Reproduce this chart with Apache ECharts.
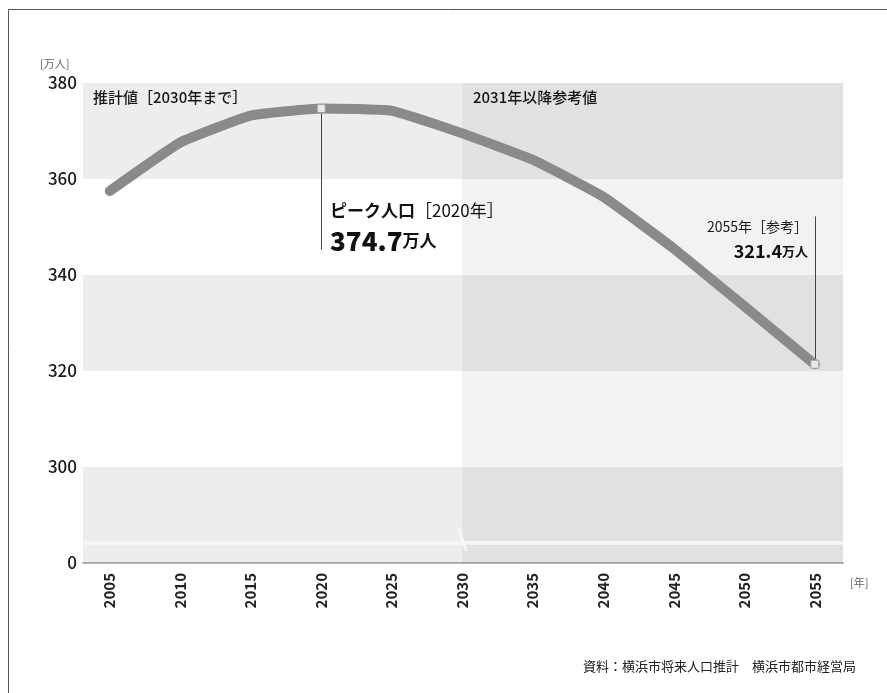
<!DOCTYPE html>
<html>
<head>
<meta charset="utf-8">
<script src="https://cdn.jsdelivr.net/npm/echarts@6/dist/echarts.min.js"></script>
<style>
  html, body { margin: 0; padding: 0; background: #fff; }
  #chart { width: 887px; height: 693px; }
</style>
</head>
<body>
<div id="chart"></div>
<script>
// 横浜市の将来人口（万人）
var years = [2005, 2010, 2015, 2020, 2025, 2030, 2035, 2040, 2045, 2050, 2055]
var population = [357.5, 367.6, 373.2, 374.7, 374.2, 369.5, 364.0, 356.3, 345.5, 333.5, 321.4]
var yTickLabels = ['0', '300', '320', '340', '360', '380']
var highlights = [[2020, 374.7], [2055, 321.4]]

var font = '"Noto Sans CJK JP", "Noto Sans", sans-serif'
var chart = echarts.init(document.getElementById('chart'))

var option = {
  animation: false,
  grid: { left: 83, right: 44, top: 83, bottom: 130 },
  xAxis: {
    type: 'value',
    min: 2003.1,
    max: 2057,
    axisLine: { show: true, lineStyle: { color: '#b4b4b4', width: 2 } },
    axisTick: { show: false },
    splitLine: { show: false },
    axisLabel: {
      customValues: years,
      rotate: 90,
      margin: 10,
      fontFamily: font,
      fontSize: 15,
      fontWeight: 'bold',
      color: '#222',
      formatter: function (v) { return String(v) }
    }
  },
  yAxis: {
    type: 'value',
    min: 280,
    max: 380,
    interval: 20,
    axisLine: { show: false },
    axisTick: { show: false },
    splitLine: { show: false },
    axisLabel: {
      margin: 6,
      fontFamily: font,
      fontSize: 17,
      fontWeight: 500,
      color: '#1a1a1a',
      formatter: function (v) {
        return yTickLabels[(v - 280) / 20]
      }
    }
  },
  series: [
    {
      // 背景の帯
      type: 'line',
      data: [],
      z: 1,
      silent: true,
      markArea: {
        silent: true,
        itemStyle: { color: 'rgba(0,0,0,0.07)' },
        data: [
          [{ yAxis: 360 }, { yAxis: 380 }],
          [{ yAxis: 320 }, { yAxis: 340 }],
          [{ yAxis: 280 }, { yAxis: 300 }]
        ]
      }
    },
    {
      // 2031年以降の網掛け
      type: 'line',
      data: [],
      z: 1,
      silent: true,
      markArea: {
        silent: true,
        itemStyle: { color: 'rgba(0,0,0,0.05)' },
        data: [[{ xAxis: 2030, yAxis: 280 }, { xAxis: 2057, yAxis: 380 }]]
      }
    },
    {
      // 軸の省略
      type: 'line',
      data: [],
      z: 2,
      silent: true,
      markArea: {
        silent: true,
        itemStyle: { color: '#f6f6f6' },
        data: [[{ yAxis: 283.8 }, { yAxis: 284.6 }]]
      },
      markLine: {
        silent: true,
        symbol: 'none',
        lineStyle: { color: '#f6f6f6', width: 3, type: 'solid' },
        label: { show: false },
        data: [[{ coord: [2029.7, 287.5] }, { coord: [2030.3, 282.5] }]]
      }
    },
    {
      name: '人口',
      type: 'line',
      data: years.map(function (y, i) { return [y, population[i]] }),
      z: 5,
      smooth: 0.12,
      symbol: 'none',
      lineStyle: { color: '#8a8a8a', width: 10, cap: 'round' }
    },
    {
      type: 'scatter',
      data: highlights,
      z: 6,
      symbol: 'rect',
      symbolSize: 8,
      itemStyle: { color: '#fff', borderColor: '#999', borderWidth: 1 },
      markLine: {
        silent: true,
        symbol: 'none',
        label: { show: false },
        lineStyle: { color: '#444', width: 1, type: 'solid' },
        data: [
          [{ coord: [2020, 374.2] }, { coord: [2020, 345.3] }],
          [{ coord: [2055, 321.9] }, { coord: [2055, 352.2] }]
        ]
      }
    }
  ],
  graphic: [
    {
      type: 'rect',
      shape: { x: 8.5, y: 9.5, width: 900, height: 700 },
      style: { fill: 'none', stroke: '#555', lineWidth: 1 },
      z: 100
    },
    {
      type: 'text', x: 40, y: 58,
      style: { text: '[万人]', font: '11px ' + font, fill: '#666' }
    },
    {
      type: 'text', x: 850, y: 577,
      style: { text: '[年]', font: '11px ' + font, fill: '#666' }
    },
    {
      type: 'text', x: 93, y: 90,
      style: { text: '推計値［2030年まで］', font: '500 15px ' + font, fill: '#1a1a1a' }
    },
    {
      type: 'text', x: 473, y: 90,
      style: { text: '2031年以降参考値', font: '500 15px ' + font, fill: '#1a1a1a' }
    },
    {
      type: 'text', x: 330, y: 196,
      style: {
        text: '{a|ピーク人口}{b|［2020年］}\n{n|374.7}{u|万人}',
        lineHeight: 30,
        fill: '#111',
        rich: {
          a: { fontFamily: font, fontSize: 17, fontWeight: 'bold', fill: '#111' },
          b: { fontFamily: font, fontSize: 17, fill: '#111' },
          n: { fontFamily: font, fontSize: 26, fontWeight: 900, fill: '#111' },
          u: { fontFamily: font, fontSize: 17, fontWeight: 'bold', fill: '#111' }
        }
      }
    },
    {
      type: 'text', x: 808, y: 214,
      style: {
        text: '{a|2055年［参考］}\n{n|321.4}{u|万人}',
        align: 'right',
        lineHeight: 25,
        rich: {
          a: { fontFamily: font, fontSize: 14, fill: '#1a1a1a' },
          n: { fontFamily: font, fontSize: 18, fontWeight: 'bold', fill: '#111' },
          u: { fontFamily: font, fontSize: 13, fontWeight: 'bold', fill: '#111' }
        }
      }
    },
    {
      type: 'text', x: 583, y: 660,
      style: { text: '資料：横浜市将来人口推計　横浜市都市経営局', font: '13px ' + font, fill: '#222' }
    }
  ]
}

chart.setOption(option)
</script>
</body>
</html>
